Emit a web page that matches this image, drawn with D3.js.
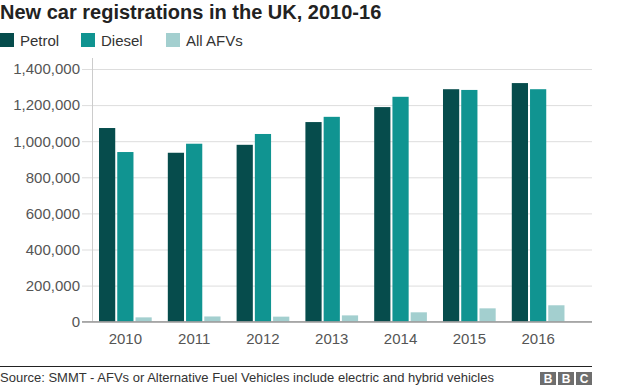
<!DOCTYPE html>
<html>
<head>
<meta charset="utf-8">
<script src="https://cdn.jsdelivr.net/npm/d3@7"></script>
<style>
  body { margin: 0; background: #fff; }
  svg { display: block; font-family: "Liberation Sans", Arial, sans-serif; }
</style>
</head>
<body>
<div id="chart"></div>
<script>
// ------------------------------------------------------------------
//	New car registrations in the UK, 2010-16
// ------------------------------------------------------------------
const years = ["2010", "2011", "2012", "2013", "2014", "2015", "2016"]
const series = ["Petrol", "Diesel", "All AFVs"]
const petrol = [1073000, 936000, 980000, 1106000, 1189000, 1288000, 1322000]
const diesel = [940000, 986000, 1040000, 1135000, 1246000, 1284000, 1288000]
const afvs = [24000, 29000, 28000, 35000, 52000, 74000, 91000]
const y_ticks = [0, 200000, 400000, 600000, 800000, 1000000, 1200000, 1400000]
const colors = ["#064c4c", "#109491", "#a3cfcf"]

const width = 624
const height = 390

// plot area
const plot_left = 92, plot_right = 592, plot_top = 69, plot_bottom = 321.7

const svg = d3.select("#chart").append("svg")
    .attr("width", width)
    .attr("height", height)

// title
svg.append("text")
    .attr("x", 0).attr("y", 19)
    .attr("font-size", 20).attr("font-weight", "bold")
    .attr("fill", "#222")
    .text("New car registrations in the UK, 2010-16")

// legend
const legend_x = [0, 81, 166]
const legend = svg.append("g").selectAll("g")
    .data(series)
  .enter().append("g")
    .attr("transform", (d, i) => "translate(" + legend_x[i] + ",33)")
legend.append("rect")
    .attr("width", 14).attr("height", 14)
    .attr("fill", (d, i) => colors[i])
legend.append("text")
    .attr("x", 20).attr("y", 13)
    .attr("font-size", 15).attr("fill", "#333")
    .text(d => d)

// scales
const y = d3.scaleLinear()
    .domain([0, 1400000])
    .range([plot_bottom, plot_top])

const x0 = d3.scaleBand()
    .domain(years)
    .range([plot_left, 571.5])
    .paddingInner(0.234)
    .paddingOuter(0.102)

const x1 = d3.scaleBand()
    .domain(series)
    .range([0, x0.bandwidth()])
    .paddingInner(0.111)

// grid + y labels
const y_axis = svg.append("g")
    .attr("transform", "translate(" + plot_right + ",0)")
    .call(d3.axisLeft(y)
        .tickValues(y_ticks)
        .tickSize(plot_right - 82)
        .tickPadding(2)
        .tickFormat(d3.format(",")))
y_axis.select(".domain").remove()
y_axis.selectAll(".tick line")
    .attr("stroke", d => d === 0 ? "#999" : "#ddd")
y_axis.selectAll(".tick text")
    .attr("font-size", 15).attr("fill", "#555")
    .attr("font-family", "Liberation Sans, Arial, sans-serif")

// vertical axis line
svg.append("line")
    .attr("x1", plot_left + 0.5).attr("x2", plot_left + 0.5)
    .attr("y1", 58).attr("y2", plot_bottom)
    .attr("stroke", "#ccc")

// bars
const rows = years.map((d, i) => ({year: d, values: [petrol[i], diesel[i], afvs[i]]}))
svg.append("g").selectAll("g")
    .data(rows)
  .enter().append("g")
    .attr("transform", d => "translate(" + x0(d.year) + ",0)")
  .selectAll("rect")
    .data(d => d.values.map((v, i) => ({key: series[i], value: v, i: i})))
  .enter().append("rect")
    .attr("x", d => x1(d.key))
    .attr("y", d => y(d.value))
    .attr("width", x1.bandwidth())
    .attr("height", d => y(0) - y(d.value))
    .attr("fill", d => colors[d.i])

// baseline on top of bars
svg.append("line")
    .attr("x1", 82).attr("x2", plot_right)
    .attr("y1", y(0)).attr("y2", y(0))
    .attr("stroke", "#999")

// x axis labels
const x_axis = svg.append("g")
    .attr("transform", "translate(0," + plot_bottom + ")")
    .call(d3.axisBottom(x0).tickSize(0).tickPadding(12))
x_axis.select(".domain").remove()
x_axis.selectAll(".tick text")
    .attr("font-size", 15).attr("fill", "#555")
    .attr("font-family", "Liberation Sans, Arial, sans-serif")

// footer
svg.append("line")
    .attr("x1", 0).attr("x2", plot_right)
    .attr("y1", 366.5).attr("y2", 366.5)
    .attr("stroke", "#222")
svg.append("text")
    .attr("x", 0).attr("y", 382)
    .attr("font-size", 13).attr("fill", "#333")
    .text("Source: SMMT - AFVs or Alternative Fuel Vehicles include electric and hybrid vehicles")

const logo = svg.append("g").selectAll("g")
    .data(["B", "B", "C"])
  .enter().append("g")
    .attr("transform", (d, i) => "translate(" + (540 + i * 18) + ",372)")
logo.append("rect")
    .attr("width", 16).attr("height", 13)
    .attr("fill", "#6e6e6e")
logo.append("text")
    .attr("x", 8).attr("y", 11)
    .attr("text-anchor", "middle")
    .attr("font-size", 12).attr("font-weight", "bold")
    .attr("fill", "#fff")
    .text(d => d)
</script>
</body>
</html>
